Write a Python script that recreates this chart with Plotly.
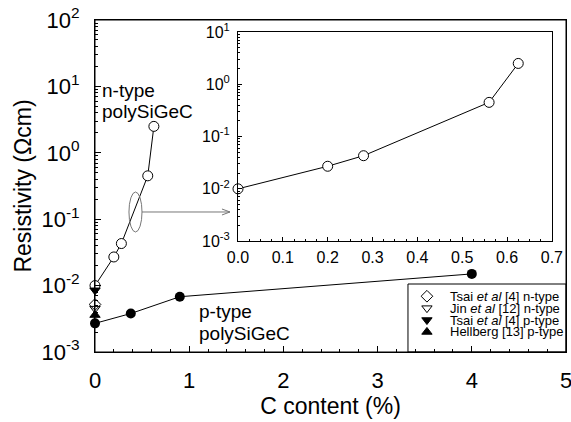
import plotly.graph_objects as go

# ---------------- data ----------------
n_x = [0.0, 0.2, 0.28, 0.56, 0.625]
n_y = [0.0100, 0.027, 0.043, 0.45, 2.5]
p_x = [0.0, 0.38, 0.9, 4.0]
p_y = [0.0027, 0.0038, 0.0068, 0.0150]
tsai_n_x = [0.0]
tsai_n_y = [0.0052]
jin_n_x = [0.0]
jin_n_y = [0.0045]
tsai_p_x = [0.0]
tsai_p_y = [0.0085]
hell_x = [0.0]
hell_y = [0.0036]

main_xticks = [0, 1, 2, 3, 4, 5]
main_yticks = [1e-3, 1e-2, 1e-1, 1e0, 1e1, 1e2]
main_ytext = ["10<sup>-3</sup>", "10<sup>-2</sup>", "10<sup>-1</sup>",
              "10<sup>0</sup>", "10<sup>1</sup>", "10<sup>2</sup>"]
inset_xticks = [0.0, 0.1, 0.2, 0.3, 0.4, 0.5, 0.6, 0.7]
inset_yticks = [1e-3, 1e-2, 1e-1, 1e0, 1e1]
inset_ytext = ["10<sup>-3</sup>", "10<sup>-2</sup>", "10<sup>-1</sup>",
               "10<sup>0</sup>", "10<sup>1</sup>"]
legend_labels = ["Tsai <i>et al</i> [4] n-type", "Jin <i>et al</i> [12] n-type",
                 "Tsai <i>et al</i> [4] p-type", "Hellberg [13] p-type"]
legend_symbols = ["diamond-open", "triangle-down-open", "triangle-down", "triangle-up"]

FONT = "Arial, 'Liberation Sans', sans-serif"

def minor_log(lo, hi):
    vals = []
    for e in range(lo, hi):
        for m in range(2, 10):
            vals.append(m * 10 ** e)
    return vals

fig = go.Figure()

# main plot
fig.add_trace(go.Scatter(x=n_x, y=n_y, mode="lines+markers", cliponaxis=False,
                         line=dict(color="black", width=1),
                         marker=dict(symbol="circle", size=10, color="white",
                                     line=dict(color="black", width=1)),
                         xaxis="x", yaxis="y"))
fig.add_trace(go.Scatter(x=p_x, y=p_y, mode="lines+markers", cliponaxis=False,
                         line=dict(color="black", width=1),
                         marker=dict(symbol="circle", size=10, color="black"),
                         xaxis="x", yaxis="y"))
for xs, ys, sym in [(tsai_n_x, tsai_n_y, "diamond-open"),
                    (jin_n_x, jin_n_y, "triangle-down-open"),
                    (tsai_p_x, tsai_p_y, "triangle-down"),
                    (hell_x, hell_y, "triangle-up")]:
    fig.add_trace(go.Scatter(x=xs, y=ys, mode="markers", cliponaxis=False,
                             marker=dict(symbol=sym, size=9, color="black",
                                         line=dict(color="black", width=1)),
                             xaxis="x", yaxis="y"))

# inset
fig.add_trace(go.Scatter(x=n_x, y=n_y, mode="lines+markers", cliponaxis=False,
                         line=dict(color="black", width=1),
                         marker=dict(symbol="circle", size=10, color="white",
                                     line=dict(color="black", width=1)),
                         xaxis="x2", yaxis="y2"))

# legend box geometry (paper units)
LEG_X0, LEG_X1, LEG_Y0, LEG_Y1 = 0.6645, 1.0, 0.0, 0.2048
leg_rows = [0.82, 0.645, 0.47, 0.295]   # fraction of legend box height
leg_sym_x = 0.12                        # fraction of legend box width
leg_txt_x = LEG_X0 + 0.255 * (LEG_X1 - LEG_X0)

fig.add_trace(go.Scatter(x=[leg_sym_x] * 4, y=leg_rows, mode="markers",
                         marker=dict(symbol=legend_symbols, size=9, color="black",
                                     line=dict(color="black", width=1)),
                         xaxis="x3", yaxis="y3"))

axis_common = dict(showline=True, linecolor="black", linewidth=1, mirror=True,
                   ticks="inside", tickcolor="black", showgrid=False, zeroline=False,
                   automargin=False, ticklabeloverflow="allow")

fig.update_layout(
    width=571, height=422,
    margin=dict(l=95, r=5, t=20, b=70),
    paper_bgcolor="white", plot_bgcolor="rgba(0,0,0,0)",
    showlegend=False,
    font=dict(family=FONT, color="black"),
    xaxis=dict(domain=[0, 1], range=[0, 5], tickvals=main_xticks, ticklen=6,
               tickfont=dict(size=22), ticklabelstandoff=9,
               minor=dict(ticks="inside", ticklen=3, tickcolor="black", dtick=0.2, tick0=0),
               title=dict(text="C content (%)", font=dict(size=23), standoff=5),
               anchor="y", **axis_common),
    yaxis=dict(domain=[0, 1], type="log", range=[-3, 2], tickvals=main_yticks,
               ticktext=main_ytext, ticklen=6, tickfont=dict(size=22),
               ticklabelstandoff=10,
               minor=dict(ticks="inside", ticklen=3, tickcolor="black",
                          tickmode="array", tickvals=minor_log(-3, 2)),
               title=dict(text="Resistivity (Ωcm)", font=dict(size=23), standoff=3),
               anchor="x", **axis_common),
    xaxis2=dict(domain=[0.3036, 0.970], range=[0, 0.7], tickvals=inset_xticks,
                tickformat=".1f", ticklen=4, tickfont=dict(size=16),
                ticklabelstandoff=2,
                minor=dict(ticks="inside", ticklen=2, tickcolor="black", dtick=0.025, tick0=0),
                anchor="y2", **axis_common),
    yaxis2=dict(domain=[0.334, 0.964], type="log", range=[-3, 1], tickvals=inset_yticks,
                ticktext=inset_ytext, ticklen=4, tickfont=dict(size=16),
                ticklabelstandoff=4,
                minor=dict(ticks="inside", ticklen=2, tickcolor="black",
                           tickmode="array", tickvals=minor_log(-3, 1)),
                anchor="x2", **axis_common),
    xaxis3=dict(domain=[LEG_X0, LEG_X1], range=[0, 1], visible=False, anchor="y3"),
    yaxis3=dict(domain=[LEG_Y0, LEG_Y1], range=[0, 1], visible=False, anchor="x3"),
)

annotations = []
# n-type / p-type labels
for txt, x, y in [("n-type", 0.0106, 0.787), ("polySiGeC", 0.0106, 0.724),
                  ("p-type", 0.2166, 0.1205), ("polySiGeC", 0.2166, 0.0572)]:
    annotations.append(dict(text=txt, x=x, y=y, xref="paper", yref="paper",
                            xanchor="left", yanchor="middle", showarrow=False,
                            font=dict(size=19, family=FONT, color="black")))
# legend text
for lab, r in zip(legend_labels, leg_rows):
    annotations.append(dict(text=lab, x=leg_txt_x, y=LEG_Y0 + r * (LEG_Y1 - LEG_Y0),
                            xref="paper", yref="paper",
                            xanchor="left", yanchor="middle", showarrow=False,
                            font=dict(size=13, family=FONT, color="black")))
fig.update_layout(annotations=annotations)

shapes = [
    # main plot frame
    dict(type="rect", xref="paper", yref="paper", x0=0, x1=1, y0=0, y1=1,
         line=dict(color="black", width=1), fillcolor="rgba(0,0,0,0)", layer="above"),
    # legend box
    dict(type="rect", xref="paper", yref="paper", x0=LEG_X0, x1=LEG_X1, y0=LEG_Y0, y1=LEG_Y1,
         line=dict(color="black", width=1), fillcolor="white", layer="below"),
    # ellipse
    dict(type="circle", xref="paper", yref="paper", x0=0.0721, x1=0.0998,
         y0=0.3614, y1=0.4819, line=dict(color="#777777", width=1)),
    # arrow line
    dict(type="line", xref="paper", yref="paper", x0=0.0998, x1=0.2866,
         y0=0.4217, y1=0.4217, line=dict(color="#777777", width=1)),
    # arrow head
    dict(type="path", xref="paper", yref="paper",
         path="M 0.2696 0.4307 L 0.2866 0.4217 L 0.2696 0.4127",
         line=dict(color="#777777", width=1)),
]
fig.update_layout(shapes=shapes)

# remove the browser's default 8px page margin so the 571x422 figure fills the window
fig.write_html("out.html", config={"displayModeBar": False},
               post_script="document.body.style.margin='0';document.body.style.overflow='hidden';")
